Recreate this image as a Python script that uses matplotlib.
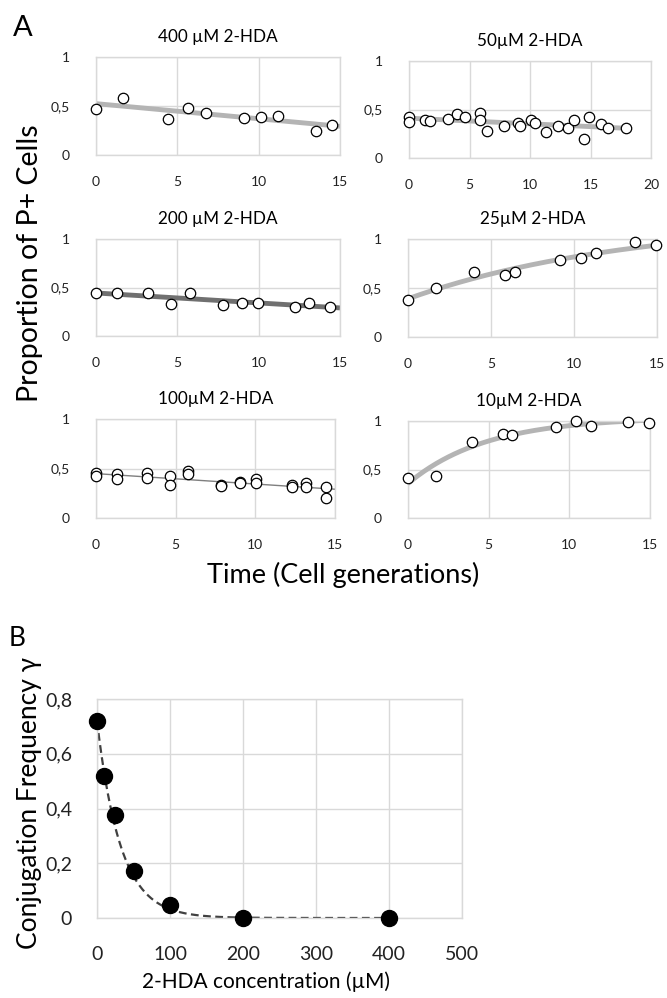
import numpy as np
import matplotlib
matplotlib.use("Agg")
import matplotlib.pyplot as plt
from matplotlib.ticker import FuncFormatter

plt.rcParams['font.family'] = ['Lato', 'DejaVu Sans']

# ---------------- Data: panel A ----------------
t400 = [0, 1.69, 4.41, 5.63, 6.78, 9.09, 10.16, 11.18, 13.5, 14.5]
p400 = [0.47, 0.58, 0.37, 0.48, 0.43, 0.375, 0.39, 0.40, 0.25, 0.31]

t50 = [0, 0, 1.32, 1.76, 3.22, 3.97, 4.63, 5.84, 5.9, 6.45, 7.82, 9.04, 9.15,
       10.06, 10.41, 11.32, 12.31, 13.17, 13.64, 14.46, 14.9, 15.9, 16.45, 17.93]
p50 = [0.426, 0.368, 0.395, 0.38, 0.40, 0.45, 0.42, 0.46, 0.395, 0.28, 0.33, 0.36, 0.33,
       0.395, 0.36, 0.27, 0.33, 0.31, 0.39, 0.20, 0.42, 0.35, 0.31, 0.31]

t200 = [0, 1.29, 3.22, 4.6, 5.75, 7.78, 8.97, 9.98, 12.24, 13.12, 14.37]
p200 = [0.445, 0.44, 0.44, 0.33, 0.44, 0.32, 0.345, 0.345, 0.30, 0.34, 0.30]

t25 = [0, 1.71, 3.98, 5.86, 6.47, 9.16, 10.42, 11.33, 13.65, 14.96]
p25 = [0.38, 0.50, 0.66, 0.63, 0.66, 0.79, 0.81, 0.86, 0.97, 0.94]

t100 = [0, 0, 1.3, 1.3, 3.21, 3.21, 4.64, 4.64, 5.8, 5.8, 7.82, 7.82, 9.02, 9.02,
        10.07, 10.07, 12.31, 12.31, 13.15, 13.15, 14.41, 14.41]
p100 = [0.455, 0.42, 0.445, 0.39, 0.45, 0.40, 0.42, 0.33, 0.47, 0.445, 0.33, 0.32,
        0.36, 0.355, 0.39, 0.35, 0.33, 0.31, 0.355, 0.31, 0.31, 0.20]

t10 = [0, 1.72, 3.98, 5.86, 6.46, 9.17, 10.41, 11.32, 13.64, 14.95]
p10 = [0.41, 0.43, 0.78, 0.87, 0.86, 0.94, 1.0, 0.95, 0.99, 0.98]

titles = ["400 µM 2-HDA", "50µM 2-HDA", "200 µM 2-HDA",
          "25µM 2-HDA", "100µM 2-HDA", "10µM 2-HDA"]

# ---------------- Data: panel B ----------------
conc = [0, 10, 25, 50, 100, 200, 400]
gamma = [0.72, 0.52, 0.375, 0.17, 0.047, 0.0, 0.0]
fit_a, fit_k = 0.72, 0.031  # exponential trend parameters

GRID = '#d9d9d9'


def comma(v, pos):
    return ('%g' % round(v, 2)).replace('.', ',')


def style(ax, fs, xpad, ypad):
    for s in ax.spines.values():
        s.set_color(GRID)
        s.set_linewidth(1.0)
    ax.grid(True, color=GRID, lw=1.0)
    ax.set_axisbelow(True)
    ax.tick_params(length=0, labelsize=fs, colors='#222222')
    ax.tick_params(axis='x', pad=xpad)
    ax.tick_params(axis='y', pad=ypad)
    ax.yaxis.set_major_formatter(FuncFormatter(comma))


def sat_fit(t, p, tmax):
    t = np.asarray(t, float); p = np.asarray(p, float)
    best = None
    for A in np.linspace(0.9, 1.2, 61):
        for r in np.linspace(0.02, 0.6, 117):
            for b in np.linspace(0.3, 0.5, 41):
                pred = A - (A - b) * np.exp(-r * t)
                e = np.sum((pred - p) ** 2)
                if best is None or e < best[0]:
                    best = (e, A, r, b)
    _, A, r, b = best
    tt = np.linspace(0, tmax, 200)
    return tt, A - (A - b) * np.exp(-r * tt)


def lin_fit(t, p, tmax):
    c = np.polyfit(t, p, 1)
    tt = np.array([0, tmax])
    return tt, np.polyval(c, tt)


fig = plt.figure(figsize=(6.67, 9.98), dpi=100)
W, H = 667, 998


def add_ax(l, r, top, bot):
    return fig.add_axes([l / W, 1 - bot / H, (r - l) / W, (bot - top) / H])


panels = [
    (add_ax(96, 340, 57, 155), t400, p400, 15, 'lin', '#b4b4b4', 3.5),
    (add_ax(409, 651, 61, 158), t50, p50, 20, 'lin', '#b4b4b4', 3.5),
    (add_ax(96, 340, 239, 336), t200, p200, 15, 'lin', '#707070', 3.5),
    (add_ax(408, 657, 239, 337), t25, p25, 15, 'sat', '#b4b4b4', 3.5),
    (add_ax(96, 335, 419, 518), t100, p100, 15, 'lin', '#7f7f7f', 1.0),
    (add_ax(408, 650, 421, 518), t10, p10, 15, 'sat', '#b4b4b4', 3.5),
]

for (ax, t, p, xmax, kind, lc, lw), title in zip(panels, titles):
    style(ax, 10, 15, 19)
    if kind == 'lin':
        tend = max(t) if xmax == 20 else xmax
        tt, yy = lin_fit(t, p, tend)
    else:
        tt, yy = sat_fit(t, p, xmax)
    ax.plot(tt, yy, color=lc, lw=lw, zorder=2, solid_capstyle='butt')
    ax.plot(t, p, 'o', ms=7.5, mfc='white', mec='black', mew=0.9, zorder=3,
            clip_on=False)
    ax.set_xlim(0, xmax)
    ax.set_ylim(0, 1)
    ax.set_xticks(np.arange(0, xmax + 1, 5))
    ax.set_yticks([0, 0.5, 1])
    ax.set_title(title, fontsize=12.3, pad=11)

fig.text(23 / W, 1 - 28 / H, 'A', fontsize=21, ha='center', va='center')
fig.text(30 / W, 1 - 263 / H, 'Proportion of P+ Cells', fontsize=20.5,
         rotation=90, ha='center', va='center')
fig.text(343 / W, 1 - 575 / H, 'Time (Cell generations)', fontsize=19.5,
         ha='center', va='center')

# ---------------- Panel B ----------------
fig.text(17 / W, 1 - 639 / H, 'B', fontsize=19, ha='center', va='center')
axb = add_ax(97, 462, 699, 918)
style(axb, 14, 20, 18)
xx = np.linspace(0, 400, 400)
axb.plot(xx, fit_a * np.exp(-fit_k * xx), ls=(0, (3.5, 2)), color='#404040',
         lw=1.6, zorder=2)
axb.plot(conc, gamma, 'o', ms=11.5, color='black', zorder=3, clip_on=False)
axb.set_xlim(0, 500)
axb.set_ylim(0, 0.8)
axb.set_xticks(np.arange(0, 501, 100))
axb.set_yticks([0, 0.2, 0.4, 0.6, 0.8])
fig.text(266 / W, 1 - 982 / H, '2-HDA concentration (µM)', fontsize=15,
         ha='center', va='center')
fig.text(30 / W, 1 - 803 / H, 'Conjugation Frequency γ', fontsize=19,
         rotation=90, ha='center', va='center')

fig.savefig('out.png', dpi=100)
